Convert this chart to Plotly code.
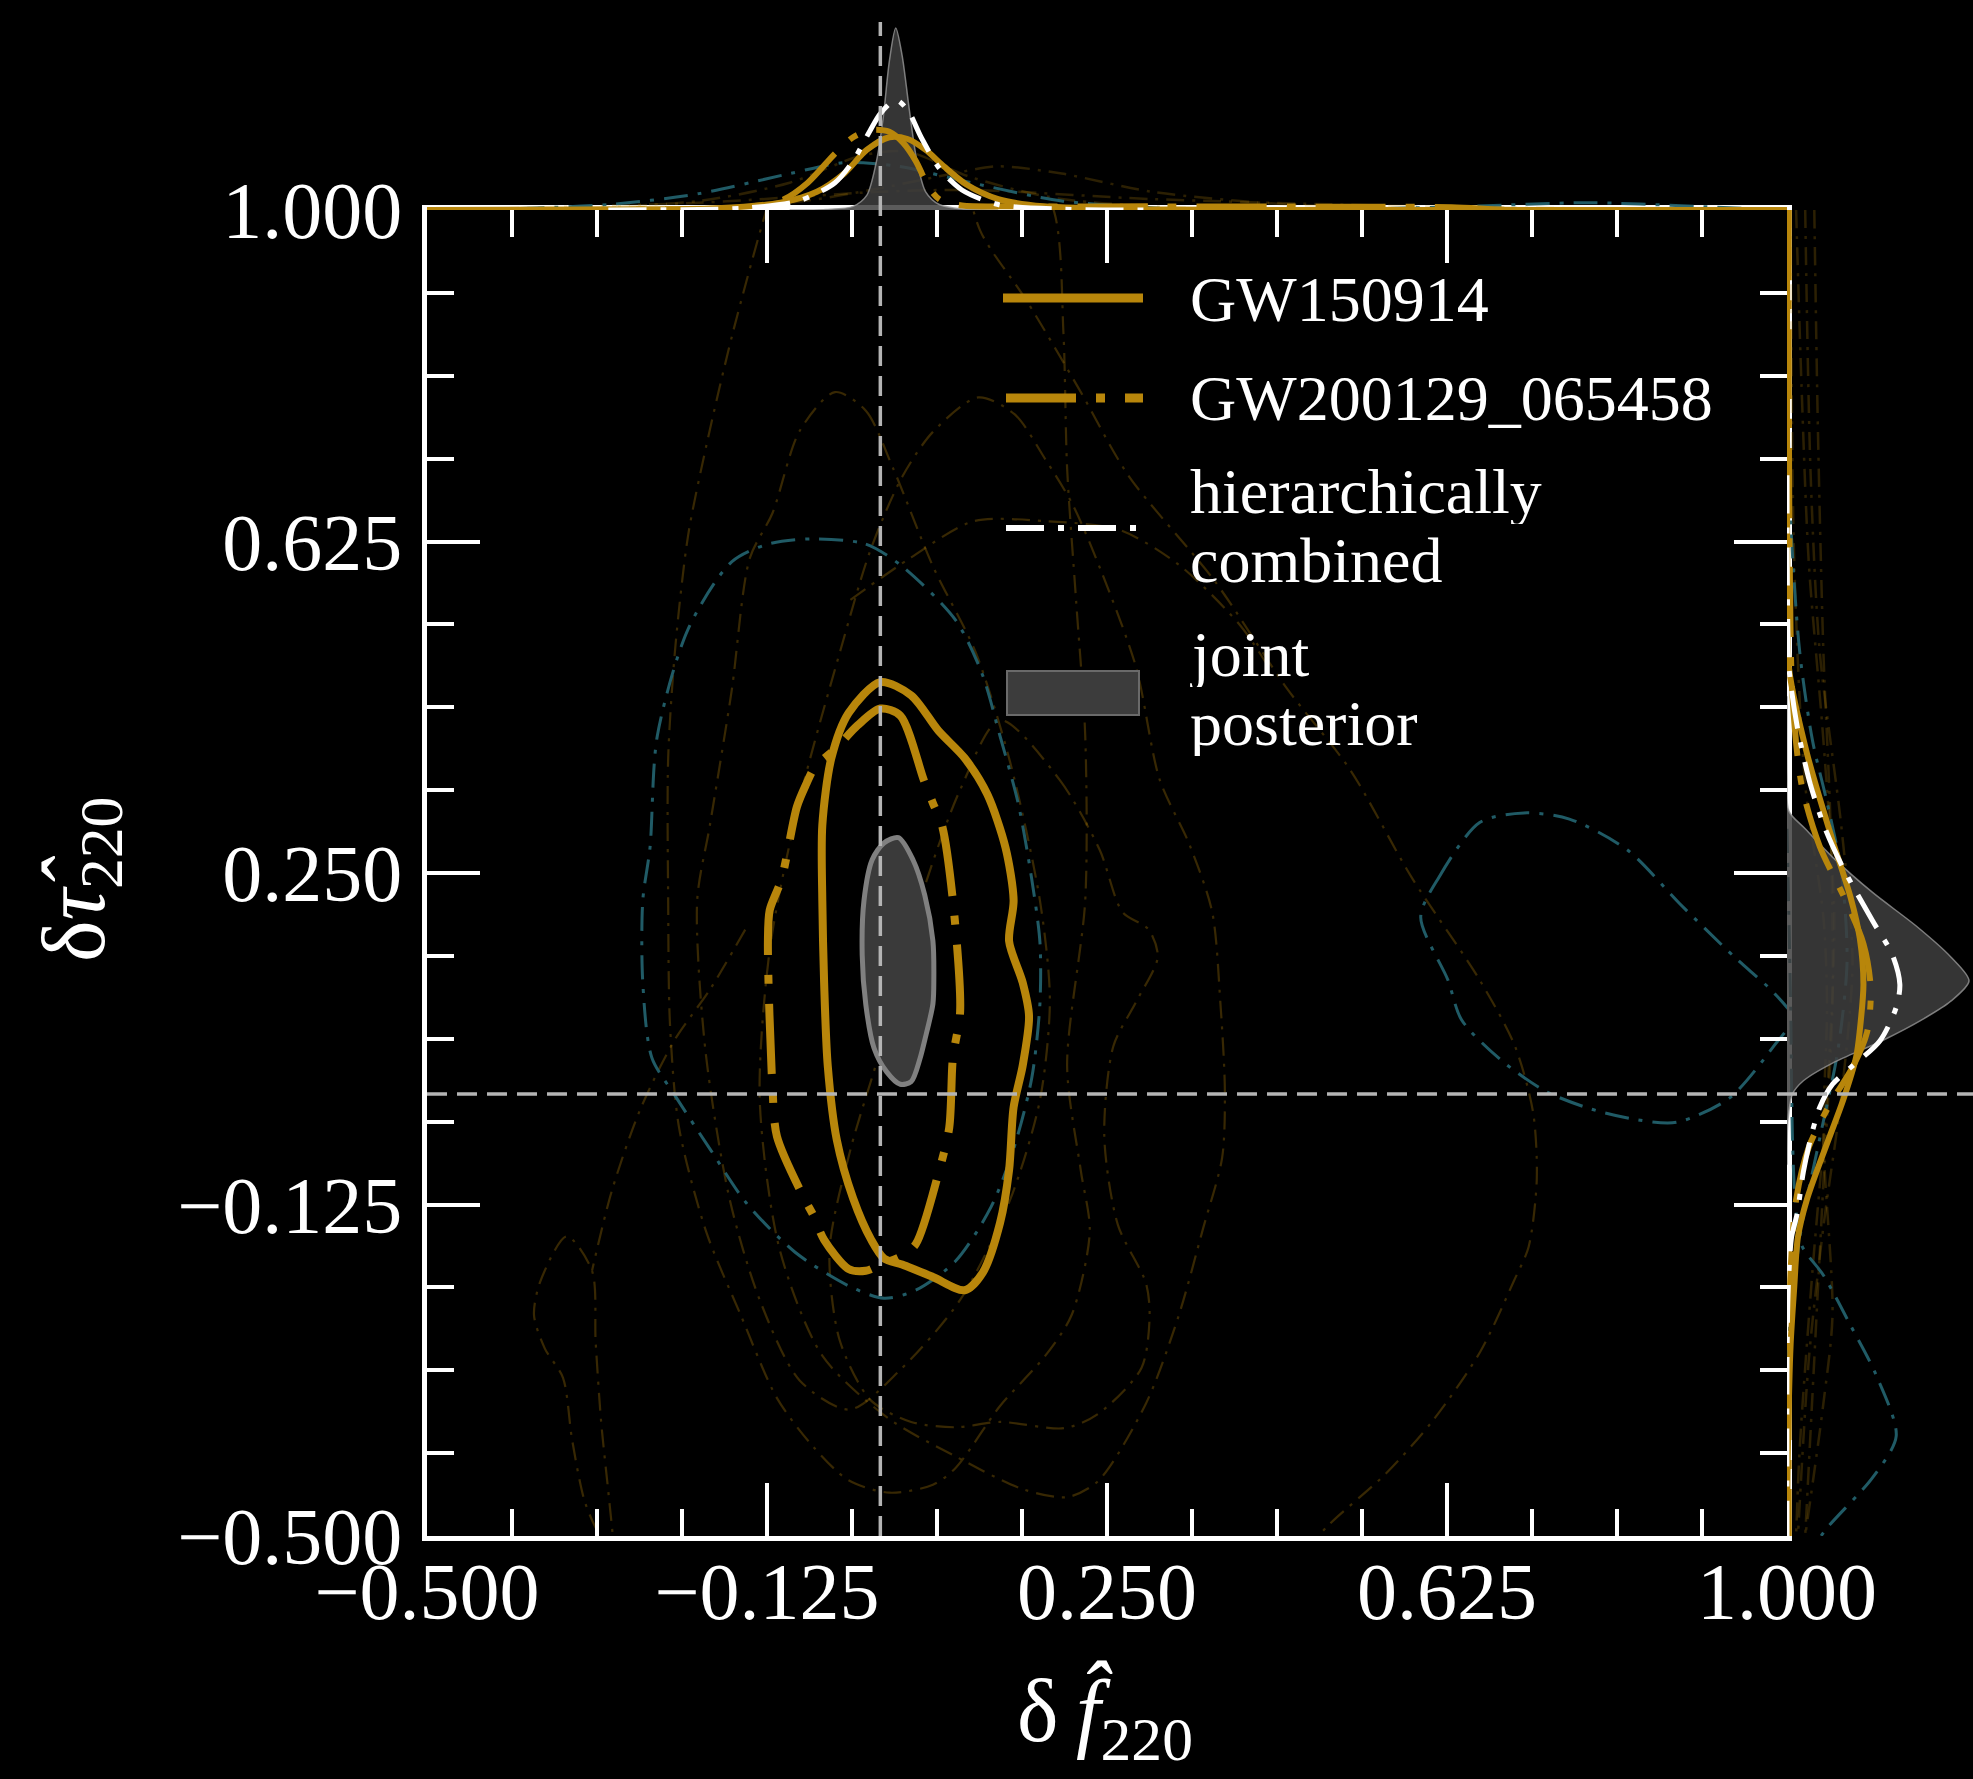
import plotly.graph_objects as go

W, H = 1973, 1779
FONT = "Liberation Serif"

GOLD = "rgb(184,134,11)"
GOLD_FAINT = "rgba(184,134,11,0.30)"
GOLD_FAINT_M = "rgba(184,134,11,0.24)"
TEAL = "rgba(34,96,108,0.95)"
WHITE = "#ffffff"
JOINT_FILL = "rgba(62,62,62,0.85)"
JOINT_EDGE = "#808080"

# ---------------- 90% credible regions in the (delta f, delta tau) plane ----------------
gw150914_df = [0.000, 0.034, 0.064, 0.093, 0.118, 0.138, 0.147, 0.142, 0.157, 0.164, 0.157, 0.147,
               0.142, 0.132, 0.113, 0.093, 0.058, 0.024, 0.004, -0.010, -0.030, -0.048, -0.058,
               -0.062, -0.064, -0.064, -0.054, -0.035, 0.000]
gw150914_dt = [0.466, 0.451, 0.411, 0.380, 0.339, 0.279, 0.219, 0.173, 0.126, 0.088, 0.032, -0.015,
               -0.086, -0.146, -0.202, -0.222, -0.207, -0.193, -0.186, -0.165, -0.118, -0.052, 0.032,
               0.126, 0.219, 0.304, 0.380, 0.431, 0.466]

gw200129_df = [0.000, 0.022, 0.048, 0.058, 0.068, 0.080, 0.088, 0.080, 0.076, 0.064, 0.039, 0.022,
               0.000, -0.016, -0.035, -0.062, -0.074, -0.084, -0.114, -0.119, -0.124, -0.122, -0.109,
               -0.092, -0.082, -0.072, -0.050, -0.025, 0.000]
gw200129_dt = [0.436, 0.428, 0.355, 0.329, 0.304, 0.219, 0.093, 0.041, -0.038, -0.090, -0.170, -0.184,
               -0.193, -0.200, -0.198, -0.165, -0.137, -0.118, -0.048, 0.008, 0.172, 0.208, 0.243,
               0.325, 0.350, 0.370, 0.390, 0.417, 0.436]

joint_df = [0.004, 0.020, 0.036, 0.049, 0.058, 0.059, 0.058, 0.049, 0.044, 0.034, 0.022, 0.007,
            -0.007, -0.016, -0.020, -0.018, -0.009, 0.004]
joint_dt = [0.284, 0.290, 0.265, 0.225, 0.173, 0.129, 0.102, 0.061, 0.041, 0.014, 0.011, 0.025,
            0.052, 0.101, 0.157, 0.219, 0.265, 0.284]

# other events (not in the legend)
teal_a_df = [-0.074, -0.016, 0.024, 0.083, 0.112, 0.132, 0.152, 0.167, 0.176, 0.176, 0.167, 0.147,
             0.122, 0.083, 0.039, 0.004, -0.035, -0.094, -0.148, -0.188, -0.227, -0.252, -0.262,
             -0.262, -0.254, -0.246, -0.212, -0.164, -0.124, -0.074]
teal_a_dt = [0.628, 0.622, 0.597, 0.536, 0.476, 0.405, 0.329, 0.243, 0.172, 0.102, 0.018, -0.062,
             -0.128, -0.189, -0.222, -0.231, -0.217, -0.179, -0.123, -0.062, -0.001, 0.041, 0.126,
             0.219, 0.279, 0.405, 0.526, 0.602, 0.622, 0.628]

teal_b_df = [0.596, 0.616, 0.661, 0.710, 0.760, 0.824, 0.882, 0.942, 0.986, 1.006, 0.986, 0.936,
             0.878, 0.834, 0.784, 0.734, 0.685, 0.641, 0.626, 0.596]
teal_b_dt = [0.200, 0.245, 0.307, 0.318, 0.311, 0.276, 0.215, 0.155, 0.114, 0.086, 0.055, -0.005,
             -0.032, -0.029, -0.017, 0.003, 0.038, 0.084, 0.129, 0.200]

faint_a_df = [-0.100, -0.124, -0.163, -0.192, -0.212, -0.226, -0.234, -0.234, -0.232, -0.222, -0.192,
              -0.154, -0.114, -0.074, -0.035, 0.010, 0.058, 0.083, 0.132, 0.182, 0.211, 0.231, 0.221,
              0.206, 0.226, 0.226, 0.216, 0.206, 0.202, 0.192, 0.150, 0.000, -0.100]
faint_a_dt = [1.080, 1.006, 0.860, 0.733, 0.632, 0.507, 0.380, 0.219, 0.079, -0.038, -0.156, -0.250,
              -0.344, -0.399, -0.437, -0.451, -0.442, -0.423, -0.353, -0.296, -0.250, -0.156, -0.086,
              0.032, 0.219, 0.405, 0.557, 0.708, 0.860, 0.997, 1.080, 1.100, 1.080]

faint_b_df = [-0.050, -0.016, 0.014, 0.058, 0.105, 0.143, 0.176, 0.187, 0.176, 0.143, 0.088, 0.022,
              -0.034, -0.089, -0.133, -0.166, -0.193, -0.202, -0.188, -0.164, -0.144, -0.119, -0.089,
              -0.050]
faint_b_dt = [0.794, 0.773, 0.708, 0.597, 0.500, 0.376, 0.219, 0.106, -0.007, -0.120, -0.233, -0.312,
              -0.357, -0.324, -0.233, -0.120, 0.050, 0.219, 0.304, 0.456, 0.606, 0.657, 0.750, 0.794]

faint_c_df = [0.108, 0.148, 0.182, 0.212, 0.243, 0.282, 0.308, 0.341, 0.366, 0.375, 0.380, 0.377,
              0.356, 0.329, 0.293, 0.240, 0.206, 0.157, 0.083, 0.009, -0.064, -0.111, -0.133, -0.122,
              -0.089, -0.044, -0.011, 0.024, 0.058, 0.108]
faint_c_dt = [0.788, 0.769, 0.718, 0.667, 0.593, 0.483, 0.356, 0.282, 0.206, 0.104, 0.003, -0.072,
              -0.152, -0.251, -0.350, -0.438, -0.456, -0.447, -0.410, -0.367, -0.296, -0.176, -0.007,
              0.163, 0.333, 0.502, 0.615, 0.698, 0.749, 0.788]

faint_d_df = [0.088, 0.110, 0.161, 0.220, 0.274, 0.369, 0.449, 0.518, 0.586, 0.661, 0.700, 0.720,
              0.724, 0.715, 0.699, 0.662, 0.609, 0.557, 0.493, 0.452]
faint_d_dt = [1.068, 0.977, 0.898, 0.796, 0.699, 0.580, 0.458, 0.367, 0.245, 0.129, 0.054, -0.021,
              -0.097, -0.173, -0.211, -0.291, -0.370, -0.430, -0.489, -0.538]

faint_e_df = [0.132, 0.198, 0.242, 0.267, 0.296, 0.306, 0.282, 0.257, 0.247, 0.262, 0.293, 0.297,
              0.288, 0.240, 0.203, 0.132, 0.083, 0.034, -0.011, -0.045, -0.056, -0.033, 0.000, 0.044,
              0.088, 0.132]
faint_e_dt = [0.423, 0.355, 0.276, 0.206, 0.186, 0.155, 0.104, 0.054, -0.048, -0.148, -0.214, -0.251,
              -0.310, -0.362, -0.378, -0.371, -0.377, -0.371, -0.346, -0.278, -0.176, -0.063, 0.050,
              0.219, 0.344, 0.423]

faint_f_df = [-0.287, -0.310, -0.326, -0.340, -0.350, -0.370, -0.382, -0.375, -0.346, -0.318, -0.314,
              -0.308, -0.300, -0.292]
faint_f_dt = [-0.527, -0.498, -0.461, -0.391, -0.321, -0.288, -0.250, -0.212, -0.161, -0.200, -0.280,
              -0.370, -0.450, -0.530]

faint_g_df = [-0.149, -0.188, -0.227, -0.265, -0.296, -0.318]
faint_g_dt = [0.186, 0.118, 0.061, -0.018, -0.109, -0.200]

faint_h_df = [-0.033, 0.034, 0.103, 0.182, 0.264, 0.330, 0.397, 0.430]
faint_h_dt = [0.559, 0.607, 0.648, 0.648, 0.638, 0.598, 0.530, 0.480]

# ---------------- marginal densities of delta f (top panel) ----------------
joint_top_df = [-0.10, -0.06, -0.03, -0.015, -0.005, 0.003, 0.010, 0.017, 0.024, 0.032, 0.040, 0.050,
                0.065, 0.09, 0.13]
joint_top_p = [0.0, 0.003, 0.02, 0.08, 0.25, 0.50, 0.82, 1.00, 0.85, 0.55, 0.28, 0.10, 0.03, 0.005, 0.0]

hier_top_df = [-0.30, -0.20, -0.15, -0.09, -0.05, -0.03, -0.012, 0.0, 0.017, 0.03, 0.045, 0.065, 0.09,
               0.13, 0.20, 0.30]
hier_top_p = [0.0, 0.003, 0.01, 0.05, 0.15, 0.27, 0.43, 0.53, 0.604, 0.55, 0.40, 0.23, 0.11, 0.03,
              0.005, 0.0]

gw150914_top_df = [-0.50, -0.30, -0.18, -0.11, -0.07, -0.04, -0.015, 0.01, 0.03, 0.05, 0.07, 0.095,
                   0.13, 0.18, 0.30, 0.50, 1.0]
gw150914_top_p = [0.0, 0.003, 0.01, 0.04, 0.10, 0.20, 0.33, 0.40, 0.39, 0.33, 0.24, 0.14, 0.06, 0.02,
                  0.003, 0.0, 0.0]

gw200129_top_df = [-0.50, -0.25, -0.15, -0.108, -0.08, -0.05, -0.03, -0.01, 0.01, 0.025, 0.039, 0.054,
                   0.066, 0.09, 0.15, 0.30, 0.50, 0.63, 0.70, 1.0]
gw200129_top_p = [0.0, 0.003, 0.015, 0.055, 0.15, 0.31, 0.40, 0.44, 0.43, 0.37, 0.27, 0.12, 0.055,
                  0.025, 0.02, 0.02, 0.018, 0.015, 0.0, 0.0]

teal_a_top_df = [-0.45, -0.30, -0.20, -0.10, -0.04, 0.02, 0.10, 0.20, 0.35]
teal_a_top_p = [0.0, 0.03, 0.09, 0.20, 0.26, 0.24, 0.15, 0.05, 0.0]
teal_b_top_df = [0.50, 0.65, 0.78, 0.90, 1.00]
teal_b_top_p = [0.0, 0.02, 0.04, 0.02, 0.0]

faint_top_1_df = [-0.30, -0.10, 0.0, 0.08, 0.13, 0.20, 0.30, 0.45, 0.70]
faint_top_1_p = [0.0, 0.04, 0.12, 0.20, 0.24, 0.20, 0.10, 0.03, 0.0]
faint_top_2_df = [-0.5, -0.2, 0.0, 0.1, 0.3, 0.6, 1.0]
faint_top_2_p = [0.0, 0.04, 0.10, 0.11, 0.06, 0.02, 0.0]
faint_top_3_df = [-0.40, -0.20, -0.10, -0.02, 0.03, 0.10, 0.20, 0.40]
faint_top_3_p = [0.0, 0.05, 0.15, 0.30, 0.32, 0.18, 0.06, 0.0]

# ---------------- marginal densities of delta tau (right panel) ----------------
joint_right_dt = [0.45, 0.36, 0.32, 0.30, 0.268, 0.228, 0.19, 0.155, 0.128, 0.105, 0.085, 0.06,
                  0.035, 0.015, 0.0, -0.03, -0.08]
joint_right_p = [0.0, 0.0, 0.01, 0.10, 0.25, 0.47, 0.71, 0.90, 1.00, 0.90, 0.75, 0.52, 0.25, 0.09,
                 0.03, 0.005, 0.0]

hier_right_dt = [0.70, 0.55, 0.48, 0.417, 0.352, 0.30, 0.255, 0.196, 0.157, 0.124, 0.098, 0.06, 0.03,
                 0.011, -0.015, -0.05, -0.088, -0.136, -0.162, -0.22, -0.30, -0.50]
hier_right_p = [0.0, 0.003, 0.012, 0.055, 0.126, 0.21, 0.31, 0.47, 0.58, 0.62, 0.60, 0.51, 0.35, 0.25,
                0.18, 0.13, 0.09, 0.055, 0.025, 0.007, 0.0, 0.0]

gw150914_right_dt = [1.0, 0.70, 0.55, 0.48, 0.385, 0.287, 0.222, 0.176, 0.124, 0.072, 0.042, -0.006,
                     -0.067, -0.119, -0.162, -0.218, -0.283, -0.40, -0.50]
gw150914_right_p = [0.0, 0.0, 0.003, 0.012, 0.11, 0.25, 0.35, 0.40, 0.42, 0.40, 0.38, 0.31, 0.20,
                    0.11, 0.06, 0.04, 0.02, 0.005, 0.0]

gw200129_right_dt = [1.0, 0.8, 0.6, 0.45, 0.35, 0.28, 0.22, 0.17, 0.12, 0.07, 0.03, -0.01, -0.06,
                     -0.12, -0.2, -0.3, -0.5]
gw200129_right_p = [0.01, 0.01, 0.015, 0.03, 0.08, 0.18, 0.32, 0.42, 0.46, 0.44, 0.36, 0.24, 0.12,
                    0.05, 0.02, 0.01, 0.01]

teal_a_right_dt = [0.85, 0.65, 0.50, 0.40, 0.33, 0.25, 0.15, 0.05, -0.05, -0.15, -0.25, -0.35]
teal_a_right_p = [0.0, 0.02, 0.07, 0.14, 0.22, 0.30, 0.33, 0.28, 0.18, 0.08, 0.02, 0.0]
teal_b_right_dt = [0.30, 0.10, -0.05, -0.12, -0.171, -0.205, -0.262, -0.318, -0.387, -0.434, -0.491,
                   -0.52]
teal_b_right_p = [0.0, 0.02, 0.03, 0.045, 0.08, 0.20, 0.35, 0.49, 0.60, 0.47, 0.22, 0.12]

faint_right_1_dt = [1.0, 0.8, 0.6, 0.4, 0.2, 0.0, -0.2, -0.4, -0.5]
faint_right_1_p = [0.05, 0.08, 0.12, 0.20, 0.26, 0.22, 0.14, 0.07, 0.05]
faint_right_2_dt = [1.0, 0.7, 0.5, 0.3, 0.15, 0.0, -0.15, -0.3, -0.5]
faint_right_2_p = [0.10, 0.13, 0.18, 0.30, 0.36, 0.30, 0.20, 0.12, 0.06]
faint_right_3_dt = [1.0, 0.6, 0.35, 0.2, 0.1, -0.05, -0.25, -0.35, -0.5]
faint_right_3_p = [0.02, 0.04, 0.10, 0.20, 0.22, 0.20, 0.25, 0.20, 0.10]
faint_right_4_dt = [1.0, 0.75, 0.5, 0.3, 0.1, -0.1, -0.3, -0.5]
faint_right_4_p = [0.15, 0.17, 0.20, 0.24, 0.25, 0.20, 0.15, 0.10]

# ---------------- axis ticks ----------------
major_ticks = [-0.5, -0.125, 0.25, 0.625, 1.0]
major_labels = ["\u22120.500", "\u22120.125", "0.250", "0.625", "1.000"]
minor_ticks = [-0.5 + 0.09375 * i for i in range(17) if i % 4 != 0]

legend_labels = ["GW150914", "GW200129_065458", "hierarchically", "combined", "joint", "posterior"]

# ---------------- layout geometry (pixels of the page) ----------------
def px(x):
    return x / W


def py(y):
    return (H - y) / H


MAIN_X = [px(427), px(1787)]
MAIN_Y = [py(1536), py(210)]
TOP_Y = [py(210), py(20)]
RIGHT_X = [px(1787), 1.0]

DASH_GOLD = "70px,20px,9px,20px"
DASH_WHITE = "38px,14px,6px,14px"
DASH_FAINT = "18px,8px,3px,8px"
DASH_TEAL = "24px,10px,4px,10px"

fig = go.Figure()


def curve(x, y, color, width, dash="solid", xa="x", ya="y", fill=None, fillcolor=None, shape="spline"):
    fig.add_trace(go.Scatter(
        x=x, y=y, mode="lines", xaxis=xa, yaxis=ya,
        line=dict(color=color, width=width, dash=dash, shape=shape, smoothing=0.8),
        fill=fill, fillcolor=fillcolor, showlegend=False, hoverinfo="skip"))


# ---- main panel ----
for fx, fy in [(faint_a_df, faint_a_dt), (faint_b_df, faint_b_dt), (faint_c_df, faint_c_dt),
               (faint_d_df, faint_d_dt), (faint_e_df, faint_e_dt), (faint_f_df, faint_f_dt),
               (faint_g_df, faint_g_dt), (faint_h_df, faint_h_dt)]:
    curve(fx, fy, GOLD_FAINT, 2.2, DASH_FAINT)
curve(teal_a_df, teal_a_dt, TEAL, 3, DASH_TEAL)
curve(teal_b_df, teal_b_dt, TEAL, 3, DASH_TEAL)
curve(joint_df, joint_dt, JOINT_EDGE, 5, fill="toself", fillcolor="#3a3a3a")
curve(gw200129_df, gw200129_dt, GOLD, 8, DASH_GOLD)
curve(gw150914_df, gw150914_dt, GOLD, 8)

# ---- top marginal ----
for fx, fp in [(faint_top_1_df, faint_top_1_p), (faint_top_2_df, faint_top_2_p),
               (faint_top_3_df, faint_top_3_p)]:
    curve(fx, fp, GOLD_FAINT_M, 2.5, DASH_FAINT, "x2", "y2")
curve(teal_a_top_df, teal_a_top_p, TEAL, 3, DASH_TEAL, "x2", "y2")
curve(teal_b_top_df, teal_b_top_p, TEAL, 3, DASH_TEAL, "x2", "y2")
curve(joint_top_df, joint_top_p, "rgba(150,150,150,0.8)", 1.5, xa="x2", ya="y2",
      fill="tozeroy", fillcolor=JOINT_FILL)
curve(gw200129_top_df, gw200129_top_p, GOLD, 6, DASH_GOLD, "x2", "y2")
curve(gw150914_top_df, gw150914_top_p, GOLD, 6, xa="x2", ya="y2")
curve(hier_top_df, hier_top_p, WHITE, 5, DASH_WHITE, "x2", "y2")

# ---- right marginal ----
for fdt, fp in [(faint_right_1_dt, faint_right_1_p), (faint_right_2_dt, faint_right_2_p),
                (faint_right_3_dt, faint_right_3_p), (faint_right_4_dt, faint_right_4_p)]:
    curve(fp, fdt, GOLD_FAINT_M, 2.5, DASH_FAINT, "x3", "y3")
curve(teal_a_right_p, teal_a_right_dt, TEAL, 3, DASH_TEAL, "x3", "y3")
curve(teal_b_right_p, teal_b_right_dt, TEAL, 3, DASH_TEAL, "x3", "y3")
curve(joint_right_p, joint_right_dt, "rgba(150,150,150,0.8)", 1.5, xa="x3", ya="y3",
      fill="tozerox", fillcolor=JOINT_FILL)
curve(gw200129_right_p, gw200129_right_dt, GOLD, 6, DASH_GOLD, "x3", "y3")
curve(gw150914_right_p, gw150914_right_dt, GOLD, 6, xa="x3", ya="y3")
curve(hier_right_p, hier_right_dt, WHITE, 5, DASH_WHITE, "x3", "y3")

tickfont = dict(family=FONT, size=80, color=WHITE)
main_axis = dict(
    range=[-0.5, 1.0], tickmode="array", tickvals=major_ticks, ticktext=major_labels,
    ticks="inside", ticklen=53, tickwidth=3.5, tickcolor=WHITE, tickfont=tickfont,
    showline=True, linecolor=WHITE, linewidth=4.5, mirror="ticks", automargin=False,
    showgrid=False, zeroline=False,
    minor=dict(tickmode="array", tickvals=minor_ticks, ticks="inside", ticklen=27,
               tickwidth=3.5, tickcolor=WHITE, showgrid=False),
)
hidden = dict(visible=False, automargin=False, showgrid=False, zeroline=False)

fig.update_layout(
    template="none",
    width=W, height=H, margin=dict(l=0, r=0, t=0, b=0, pad=0), autosize=False,
    paper_bgcolor="black", plot_bgcolor="rgba(0,0,0,0)", showlegend=False,
    font=dict(family=FONT, color=WHITE),
    xaxis=dict(domain=MAIN_X, anchor="y", ticklabelstandoff=-18, **main_axis),
    yaxis=dict(domain=MAIN_Y, anchor="x", ticklabelstandoff=4, **main_axis),
    xaxis2=dict(domain=MAIN_X, anchor="y2", range=[-0.5, 1.0], **hidden),
    yaxis2=dict(domain=TOP_Y, anchor="x2", range=[0, 1.044], **hidden),
    xaxis3=dict(domain=RIGHT_X, anchor="y3", range=[0, 1.022], **hidden),
    yaxis3=dict(domain=MAIN_Y, anchor="x3", range=[-0.5, 1.0], **hidden),
)

# reference lines at the GR values
ref = dict(color="#b4b4b4", width=3.5, dash="20px,10px")
fig.add_shape(type="line", xref="x", yref="paper", x0=0, x1=0, y0=MAIN_Y[0], y1=py(22),
              line=ref, layer="above")
fig.add_shape(type="line", xref="paper", yref="y", x0=MAIN_X[0], x1=1.0, y0=0, y1=0,
              line=ref, layer="above")

# legend
fig.add_shape(type="line", xref="paper", yref="paper", x0=px(1003), x1=px(1143), y0=py(298),
              y1=py(298), line=dict(color=GOLD, width=9), layer="above")
fig.add_shape(type="line", xref="paper", yref="paper", x0=px(1006), x1=px(1143), y0=py(398),
              y1=py(398), line=dict(color=GOLD, width=9, dash=DASH_GOLD), layer="above")
fig.add_shape(type="line", xref="paper", yref="paper", x0=px(1006), x1=px(1143), y0=py(528),
              y1=py(528), line=dict(color=WHITE, width=6, dash=DASH_WHITE), layer="above")
fig.add_shape(type="rect", xref="paper", yref="paper", x0=px(1007), x1=px(1139), y0=py(715),
              y1=py(671), fillcolor="#3c3c3c", line=dict(color="#6a6a6a", width=2), layer="above")

legend_y = [299, 398, 491, 560, 654, 723]
for txt, yy in zip(legend_labels, legend_y):
    fig.add_annotation(text=txt, xref="paper", yref="paper", x=px(1188), y=py(yy),
                       xanchor="left", yanchor="middle", showarrow=False, height=66,
                       valign="middle", font=dict(family=FONT, size=64, color=WHITE))

# axis titles
fig.add_annotation(text="\u03b4\u2009<i>f\u0302</i><sub>220</sub>", xref="paper", yref="paper",
                   x=px(1105), y=py(1716), xanchor="center", yanchor="middle", showarrow=False,
                   font=dict(family=FONT, size=88, color=WHITE))
fig.add_annotation(text="\u03b4<i>\u03c4\u0302</i><sub>220</sub>", xref="paper", yref="paper",
                   x=px(80), y=py(880), xanchor="center", yanchor="middle", showarrow=False,
                   textangle=-90, font=dict(family=FONT, size=88, color=WHITE))

fig.write_html("out.html")
